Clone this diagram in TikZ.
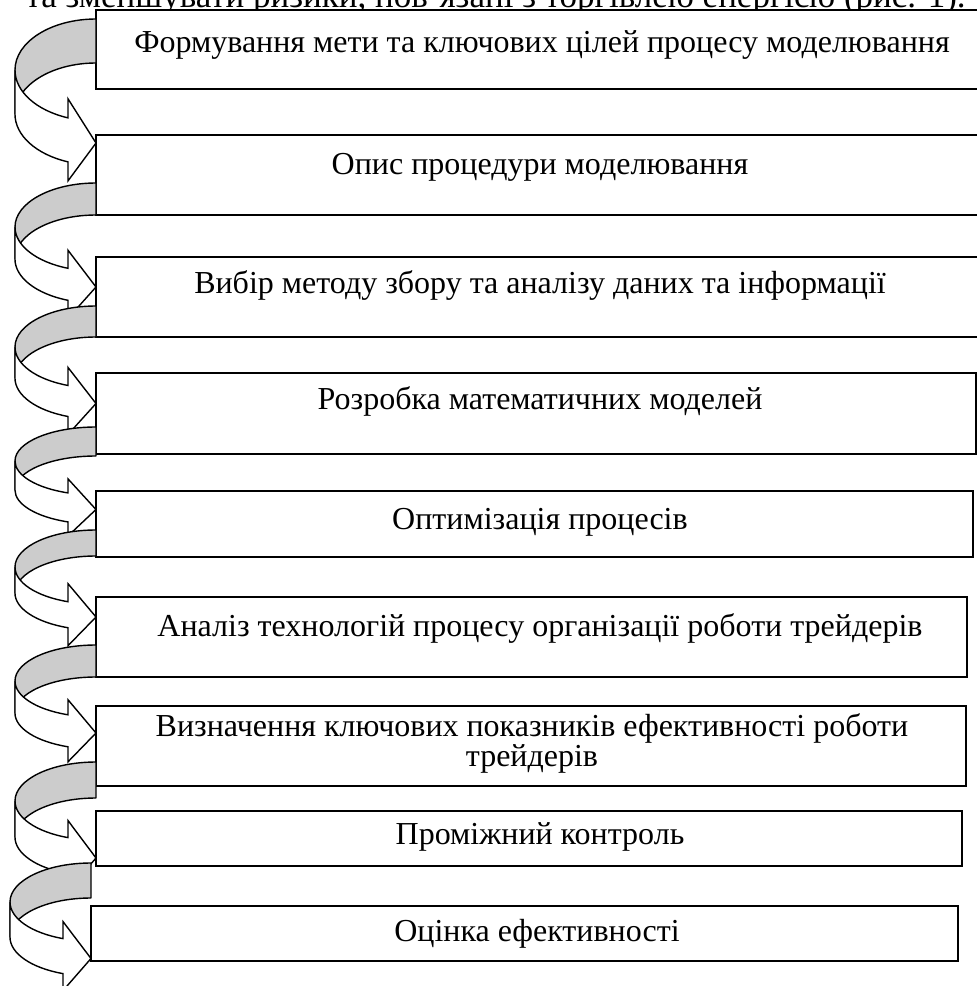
\documentclass[tikz,border=0pt]{standalone}
\usepackage{fontspec}
\setmainfont{Liberation Serif}
\usetikzlibrary{positioning}
\colorlet{backcolor}{gray!40}
\tikzset{
    % --- styles ---
    box/.style={draw, fill=white, line width=1.3pt, inner sep=0pt, outer sep=0pt, anchor=north west},
    boxtext/.style={font=\fontsize{32}{27}\selectfont, align=center, inner sep=0pt, anchor=base},
    bandback/.style={draw, fill=backcolor, line width=1.4pt, line join=round},
    bandfront/.style={draw, fill=white, line width=1.4pt, line join=miter}
}
% curved arrow: #1 right x, #2 centre y, #3 y radius, #4 band width, #5 head overhang
\newcommand{\bentarrow}[5]{%
  \draw[bandback] (#1,#3-#2) arc[start angle=90, end angle=180, x radius=81, y radius=#3]
      -- ++(0,-#4) arc[start angle=180, end angle=90, x radius=81, y radius=#3] -- cycle;
  \draw[bandfront] (#1-81,-#2) arc[start angle=180, end angle=249.8, x radius=81, y radius=#3]
      -- ++(0,#5) -- (#1,{-#2-#3-0.5*#4})
      -- (#1-28,{-#2-#4-0.9385*#3-#5}) -- ++(0,#5)
      arc[start angle=249.8, end angle=180, x radius=81, y radius=#3] -- cycle;
}

\begin{document}
\begin{tikzpicture}[x=1pt,y=1pt]
    \useasboundingbox (0,0) rectangle (977,-986);
    \clip (0,0) rectangle (977,-986);

    \node[boxtext, anchor=base east, font=\fontsize{35}{35}\selectfont] (prev) at (966,-7) {та зменшувати ризики, пов’язані з торгівлею енергією (рис. 1).};

    \node[box, minimum width=894, minimum height=79] (b1) at (96,-10) {};
    \node[box, minimum width=894, minimum height=80] (b2) at (96,-135) {};
    \node[box, minimum width=894, minimum height=80] (b3) at (96,-257) {};
    \node[box, minimum width=880, minimum height=81] (b4) at (96,-373) {};
    \node[box, minimum width=877, minimum height=66] (b5) at (96,-491) {};
    \node[box, minimum width=871, minimum height=80] (b6) at (96,-597) {};
    \node[box, minimum width=870, minimum height=80] (b7) at (96,-706) {};
    \node[box, minimum width=866, minimum height=55] (b8) at (96,-811) {};
    \node[box, minimum width=867, minimum height=55] (b9) at (91,-906) {};

    \node[boxtext] (t1) at (542,-52) {Формування мети та ключових цілей процесу моделювання};
    \node[boxtext] (t2) at (540,-174) {Опис процедури моделювання};
    \node[boxtext] (t3) at (540,-293) {Вибір методу збору та аналізу даних та інформації};
    \node[boxtext] (t4) at (540,-409) {Розробка математичних моделей};
    \node[boxtext] (t5) at (540,-529) {Оптимізація процесів};
    \node[boxtext] (t6) at (540,-636) {Аналіз технологій процесу організації роботи трейдерів};
    \node[boxtext] (t7) at (532,-766) {Визначення ключових показників ефективності роботи\\трейдерів};
    \node[boxtext] (t8) at (540,-844) {Проміжний контроль};
    \node[boxtext] (t9) at (537,-941) {Оцінка ефективності};

    \bentarrow{96}{70}{51}{44}{19}
    \bentarrow{96}{227}{44}{32}{18}
    \bentarrow{96}{347}{41}{31}{18}
    \bentarrow{96}{461}{34}{29}{14}
    \bentarrow{96}{567}{37}{26}{18}
    \bentarrow{96}{681}{36}{32}{15}
    \bentarrow{96}{801}{39}{36}{17}
    \bentarrow{91}{902}{39}{35}{17}
\end{tikzpicture}
\end{document}
